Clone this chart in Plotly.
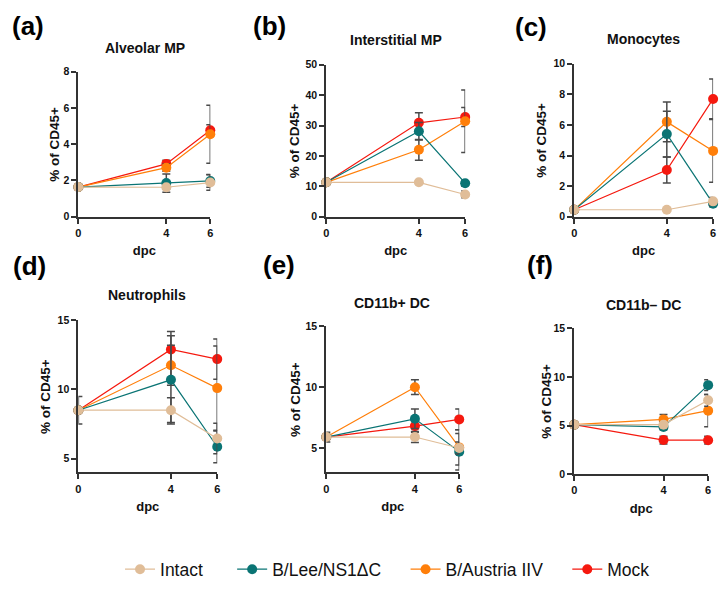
import plotly.graph_objects as go

days = [0, 4, 6]
groups = ["Intact", "B/Lee/NS1ΔC", "B/Austria IIV", "Mock"]
colors = ["#E0BD98", "#0A7474", "#FF7F0A", "#F5190F"]

panel_titles = ["Alveolar MP", "Interstitial MP", "Monocytes",
                "Neutrophils", "CD11b+ DC", "CD11b– DC"]
panel_labels = ["(a)", "(b)", "(c)", "(d)", "(e)", "(f)"]

# values per panel: [intact, B/Lee, B/Austria, Mock]
alv_mean = [[1.63, 1.62, 1.88], [1.63, 1.85, 1.97], [1.63, 2.70, 4.55], [1.63, 2.91, 4.77]]
alv_err = [[0, 0.10, 0.43], [0, 0.50, 0.35], [0, 0.20, 1.60], [0, 0.20, 0.30]]
int_mean = [[11.3, 11.3, 7.3], [11.3, 28.1, 11.0], [11.3, 22.0, 31.4], [11.3, 30.9, 32.8]]
int_err = [[0, 0.3, 1.1], [0, 2.9, 1.0], [0, 3.4, 10.3], [0, 3.3, 3.1]]
mono_mean = [[0.45, 0.45, 1.0], [0.45, 5.4, 0.85], [0.45, 6.2, 4.3], [0.45, 3.05, 7.7]]
mono_err = [[0, 0.05, 0.25], [0, 1.5, 0.2], [0, 1.3, 2.05], [0, 0.85, 1.3]]
neu_mean = [[8.5, 8.5, 6.45], [8.5, 10.7, 5.85], [8.5, 11.75, 10.1], [8.5, 12.9, 12.2]]
neu_err = [[1.0, 0.9, 1.1], [0, 3.2, 1.15], [0, 1.45, 3.05], [0, 1.3, 1.45]]
dcp_mean = [[5.9, 5.9, 5.0], [5.9, 7.4, 4.7], [5.9, 10.0, 5.05], [5.9, 6.8, 7.35]]
dcp_err = [[0.4, 0.45, 0.5], [0, 0.8, 1.5], [0, 0.6, 1.45], [0, 0.5, 0.85]]
dcm_mean = [[5.1, 5.1, 7.6], [5.1, 4.87, 9.16], [5.1, 5.64, 6.54], [5.1, 3.52, 3.5]]
dcm_err = [[0, 0.3, 0.6], [0, 0.3, 0.55], [0, 0.5, 1.66], [0, 0.4, 0.4]]

means = [alv_mean, int_mean, mono_mean, neu_mean, dcp_mean, dcm_mean]
errs = [alv_err, int_err, mono_err, neu_err, dcp_err, dcm_err]

y_ranges = [[0, 8], [0, 50], [0, 10], [4, 15], [3, 15], [0, 15]]
y_ticks = [[0, 2, 4, 6, 8], [0, 10, 20, 30, 40, 50], [0, 2, 4, 6, 8, 10],
           [5, 10, 15], [5, 10, 15], [0, 5, 10, 15]]

W, H = 728, 590
# pixel boxes (x0, x1, ytop, ybottom)
boxes = [(76, 209, 67, 215), (326, 466, 60, 215), (576, 716, 59, 215),
         (76, 216, 321, 476), (326, 460, 327, 476), (576, 711, 329, 478)]
title_pos = [(143, 43), (396, 35), (646, 34), (145, 295), (392, 303), (646, 305)]
label_pos = [(7, 20), (250, 20), (514, 21), (8, 265), (260, 264), (526, 264)]
ytitle_x = [52, 294, 543, 43, 295, 548]
legend_pad = [5, 4, 4, 0]

fig = go.Figure()
FONT = "Liberation Sans, Arial, sans-serif"
AX = "#333333"
annotations = []
layout_axes = {}

for p in range(6):
    xa = "x" if p == 0 else f"x{p+1}"
    ya = "y" if p == 0 else f"y{p+1}"
    for g in [3, 2, 1, 0]:
        fig.add_trace(go.Scatter(
            x=days, y=means[p][g], mode="lines+markers",
            name=groups[g] + "\u00a0" * legend_pad[g], legendrank=g + 1,
            showlegend=(p == 0),
            line=dict(color=colors[g], width=1.2),
            marker=dict(color=colors[g], size=10),
            error_y=dict(type="data", array=errs[p][g], color="#4a4a4a",
                         thickness=1.5, width=4),
            cliponaxis=False, xaxis=xa, yaxis=ya,
        ))
    x0, x1, yt, yb = boxes[p]
    xkey = "xaxis" if p == 0 else f"xaxis{p+1}"
    ykey = "yaxis" if p == 0 else f"yaxis{p+1}"
    layout_axes[xkey] = dict(
        domain=[x0 / W, x1 / W], anchor=ya, range=[0, 6],
        tickvals=[0, 4, 6], showline=True, linewidth=2, linecolor=AX,
        ticks="outside", ticklen=5, tickwidth=2, tickcolor=AX,
        showgrid=False, zeroline=False,
        tickfont=dict(family=FONT, size=11, color="#111", weight="bold"),
        title=dict(text="dpc", standoff=8,
                   font=dict(family=FONT, size=13, color="#111", weight="bold")),
    )
    layout_axes[ykey] = dict(
        domain=[1 - yb / H, 1 - yt / H], anchor=xa, range=y_ranges[p],
        tickvals=y_ticks[p], showline=True, linewidth=2, linecolor=AX,
        ticks="outside", ticklen=5, tickwidth=2, tickcolor=AX,
        showgrid=False, zeroline=False,
        tickfont=dict(family=FONT, size=10.5, color="#111", weight="bold"),
    )
    # y title
    annotations.append(dict(
        text="% of CD45+", xref="paper", yref="paper",
        x=ytitle_x[p] / W, y=1 - ((yt + yb) / 2) / H, textangle=-90,
        showarrow=False, xanchor="center", yanchor="middle",
        font=dict(family=FONT, size=13.5, color="#111", weight="bold")))
    tx, ty = title_pos[p]
    annotations.append(dict(
        text=panel_titles[p], xref="paper", yref="paper",
        x=tx / W, y=1 - ty / H, showarrow=False,
        xanchor="center", yanchor="middle",
        font=dict(family=FONT, size=14, color="#111", weight="bold")))
    lx, ly = label_pos[p]
    annotations.append(dict(
        text=panel_labels[p], xref="paper", yref="paper",
        x=lx / W, y=1 - ly / H, showarrow=False,
        xanchor="left", yanchor="middle",
        font=dict(family=FONT, size=26, color="#000", weight="bold")))

fig.update_layout(
    width=W, height=H, margin=dict(l=0, r=0, t=0, b=0),
    plot_bgcolor="white", paper_bgcolor="white",
    annotations=annotations,
    legend=dict(orientation="h", x=118 / W, xanchor="left", y=1 - 575 / H,
                yanchor="middle", font=dict(family=FONT, size=17.5, color="#111"),
                itemwidth=30),
    **layout_axes,
)

fig.write_html("out.html")
